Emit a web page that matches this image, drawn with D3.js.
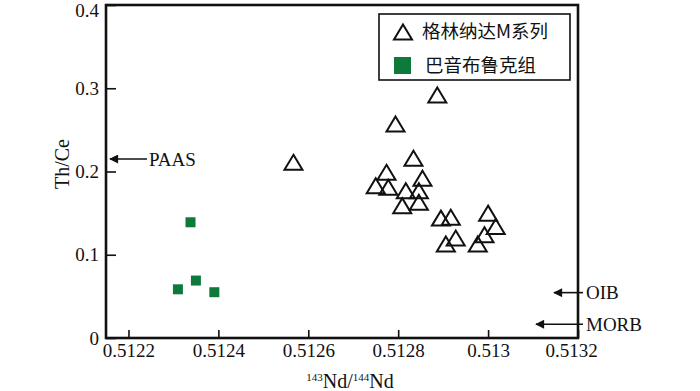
<!DOCTYPE html>
<html>
<head>
<meta charset="utf-8">
<script src="https://cdn.jsdelivr.net/npm/d3@7"></script>
<style>
  body { margin: 0; background: #fff; }
  svg text { font-family: "Liberation Serif", "Times New Roman", serif; fill: #111; }
  svg text.cjk { font-family: "Noto Sans CJK SC", sans-serif; }
</style>
</head>
<body>
<div id="chart"></div>
<script>
// 格林纳达M系列 (open triangles)
var grenadaNd = [0.512887, 0.512794, 0.512567, 0.512834, 0.512774, 0.512854, 0.51275, 0.512778, 0.512817, 0.512846,
                 0.512809, 0.512846, 0.512895, 0.512917, 0.513, 0.513017, 0.512992, 0.512928, 0.512906, 0.512977];
var grenadaThCe = [0.292, 0.257, 0.211, 0.216, 0.199, 0.192, 0.183, 0.181, 0.177, 0.177,
                   0.159, 0.163, 0.144, 0.145, 0.150, 0.134, 0.124, 0.120, 0.113, 0.113];
// 巴音布鲁克组 (green squares)
var bayinNd = [0.512338, 0.51235, 0.51231, 0.512391];
var bayinThCe = [0.139, 0.069, 0.0585, 0.055];

// reference values marked with arrows
var refNames = ["PAAS", "OIB", "MORB"];
var refValues = [0.215, 0.0545, 0.0165];

var xTicks = [0.5122, 0.5124, 0.5126, 0.5128, 0.513, 0.5132];
var xTickLabels = ["0.5122", "0.5124", "0.5126", "0.5128", "0.513", "0.5132"];
var yTicks = [0, 0.1, 0.2, 0.3, 0.4];
var yTickLabels = ["0", "0.1", "0.2", "0.3", "0.4"];
var legendNames = ["格林纳达M系列", "巴音布鲁克组"];

var width = 700, height = 391;
var plotL = 106, plotR = 578, plotT = 5, plotB = 338;
var green = "#0d7a3c";

var svg = d3.select("#chart").append("svg").attr("width", width).attr("height", height);

var x = d3.scaleLinear().domain([0.51215, 0.5132]).range([plotL, plotR]);
var y = d3.scaleLinear().domain([0, 0.4]).range([plotB, plotT]);

// axes with inward ticks
var xAxis = d3.axisBottom(x).tickValues(xTicks)
    .tickFormat(function(d, i) { return xTickLabels[i]; })
    .tickSizeInner(-8).tickSizeOuter(0).tickPadding(6);
var yAxis = d3.axisLeft(y).tickValues(yTicks)
    .tickFormat(function(d, i) { return yTickLabels[i]; })
    .tickSizeInner(-10).tickSizeOuter(0).tickPadding(7);

var gx = svg.append("g").attr("transform", "translate(0," + plotB + ")").call(xAxis);
var gy = svg.append("g").attr("transform", "translate(" + plotL + ",0)").call(yAxis);
[gx, gy].forEach(function(g) {
  g.attr("font-family", "Liberation Serif").attr("font-size", 19);
  g.select(".domain").remove();
  g.selectAll(".tick line").attr("stroke", "#111").attr("stroke-width", 1.6);
  g.selectAll(".tick text").attr("fill", "#111");
});
// last x label sits a little left of the frame, top y label kept inside the picture
gx.selectAll(".tick text").filter(function(d) { return d === 0.5132; }).attr("dx", -7);
gy.selectAll(".tick text").filter(function(d) { return d === 0.4; }).attr("y", 5);

// frame
svg.append("rect").attr("x", plotL).attr("y", plotT).attr("width", plotR - plotL).attr("height", plotB - plotT)
   .attr("fill", "none").attr("stroke", "#111").attr("stroke-width", 2.6);

// axis titles
svg.append("text").attr("transform", "translate(69,164) rotate(-90)")
   .attr("text-anchor", "middle").style("font-size", "20px").text("Th/Ce");

var xt = svg.append("text").attr("x", 350).attr("y", 388).attr("text-anchor", "middle").style("font-size", "20px");
xt.append("tspan").attr("dy", -7).style("font-size", "11px").text("143");
xt.append("tspan").attr("dy", 7).text("Nd/");
xt.append("tspan").attr("dy", -7).style("font-size", "11px").text("144");
xt.append("tspan").attr("dy", 7).text("Nd");

// arrow marker, head at the end of the line
svg.append("defs").append("marker").attr("id", "arr")
   .attr("viewBox", "0 0 10 10").attr("refX", 9).attr("refY", 5)
   .attr("markerWidth", 11).attr("markerHeight", 9).attr("markerUnits", "userSpaceOnUse")
   .attr("orient", "auto")
   .append("path").attr("d", "M0,0 L10,5 L0,10 Z").attr("fill", "#111");

// PAAS arrow on left side, OIB and MORB on right side
var refLine = [
  { x1: 147, x2: 110, tx: 149 },
  { x1: 583, x2: 554, tx: 586 },
  { x1: 583, x2: 536, tx: 586 }
];
refNames.forEach(function(name, i) {
  var yy = y(refValues[i]);
  svg.append("line").attr("x1", refLine[i].x1).attr("x2", refLine[i].x2)
     .attr("y1", yy).attr("y2", yy).attr("stroke", "#111").attr("stroke-width", 1.6)
     .attr("marker-end", "url(#arr)");
  svg.append("text").attr("x", refLine[i].tx).attr("y", yy).attr("dy", "0.35em")
     .style("font-size", "19px").text(name);
});

// triangle path centred on its mid-height
function triPath(w, h) {
  return "M0," + (-h / 2) + "L" + (w / 2) + "," + (h / 2) + "L" + (-w / 2) + "," + (h / 2) + "Z";
}

svg.selectAll("rect.bayin").data(bayinNd).enter().append("rect").attr("class", "bayin")
   .attr("x", function(d) { return x(d) - 5; })
   .attr("y", function(d, i) { return y(bayinThCe[i]) - 5; })
   .attr("width", 10).attr("height", 10).attr("fill", green);

svg.selectAll("path.grenada").data(grenadaNd).enter().append("path").attr("class", "grenada")
   .attr("d", triPath(18, 15))
   .attr("transform", function(d, i) { return "translate(" + x(d) + "," + y(grenadaThCe[i]) + ")"; })
   .attr("fill", "none").attr("stroke", "#111").attr("stroke-width", 2).attr("stroke-linejoin", "miter");

// legend
var lg = svg.append("g");
lg.append("rect").attr("x", 379).attr("y", 14).attr("width", 191).attr("height", 66)
  .attr("fill", "#fff").attr("stroke", "#111").attr("stroke-width", 1.6);
lg.append("path").attr("d", triPath(18, 15)).attr("transform", "translate(403,32)")
  .attr("fill", "none").attr("stroke", "#111").attr("stroke-width", 2);
lg.append("rect").attr("x", 394).attr("y", 57).attr("width", 17).attr("height", 17).attr("fill", green);
legendNames.forEach(function(name, i) {
  lg.append("text").attr("class", "cjk").attr("x", i === 0 ? 422 : 425).attr("y", i === 0 ? 32 : 66)
    .attr("dy", "0.35em").style("font-size", "18.5px").text(name);
});
</script>
</body>
</html>
